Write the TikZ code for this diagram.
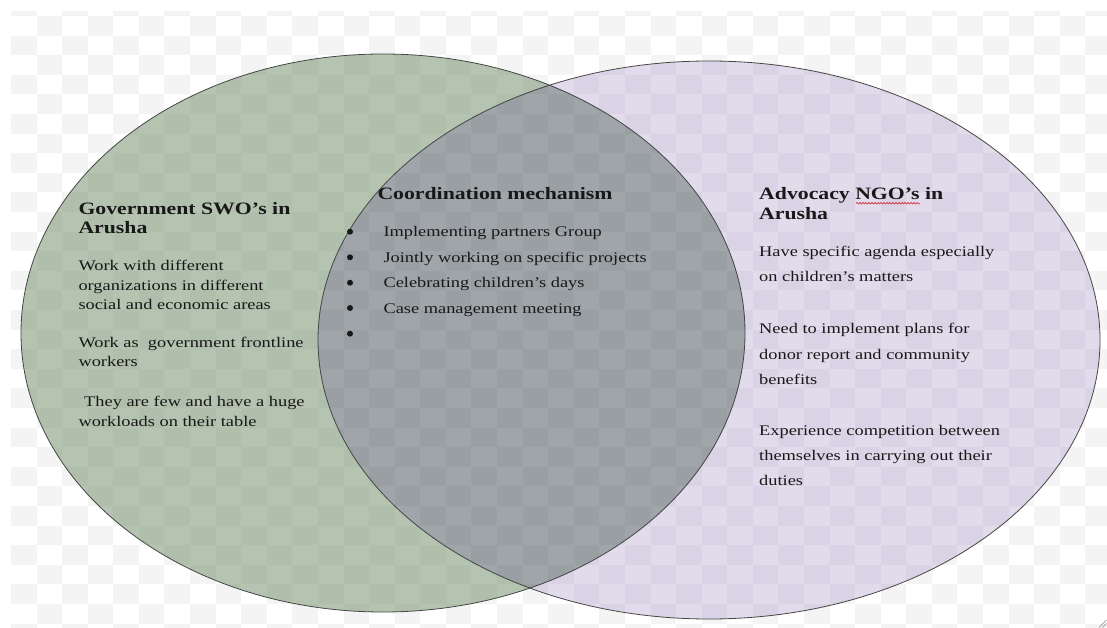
\documentclass[tikz,border=0pt]{standalone}
\usepackage{fontspec}
\setmainfont{Liberation Serif}[FakeStretch=1.25]
\usetikzlibrary{decorations.pathmorphing}

\definecolor{checkgrey}{RGB}{244,244,244}
\definecolor{govfill}{RGB}{120,148,113}
\definecolor{ngofill}{RGB}{158,138,195}
\definecolor{sharedfill}{RGB}{46,57,67}
\definecolor{rimcol}{RGB}{70,70,70}
\definecolor{inkcol}{RGB}{24,24,24}

\begin{document}
\begin{tikzpicture}[x=1pt,y=-1pt,
  txt/.style={anchor=base west, inner sep=0pt, text=inkcol,
              font=\fontsize{14.7}{17}\selectfont},
  head/.style={txt, font=\bfseries\fontsize{17.4}{20}\selectfont},
  dot/.style={circle, fill=inkcol, inner sep=0pt, minimum size=6pt}]

\useasboundingbox (0,0) rectangle (1107,628);
\fill[white] (0,0) rectangle (1107,628);

% chequered backdrop
\begin{scope}
  \clip (11,12) rectangle (1107,628);
  \foreach \c in {0,...,43}{
    \foreach \r in {0,...,33}{
      \pgfmathtruncatemacro\cellparity{mod(\c+\r,2)}
      \ifnum\cellparity=0
        \fill[checkgrey] ({11+\c*25.58},{16+(\r-1)*19.6}) rectangle +(25.58,19.6);
      \fi
    }
  }
\end{scope}

% the two sets
\def\govset{(383,333) ellipse [x radius=362, y radius=279]}
\def\ngoset{(709,340) ellipse [x radius=391, y radius=279]}

\begin{scope}
  \clip \govset;
  \fill[govfill, opacity=0.55, even odd rule] \govset \ngoset;
\end{scope}
\begin{scope}
  \clip \ngoset;
  \fill[ngofill, opacity=0.3, even odd rule] \govset \ngoset;
\end{scope}
\begin{scope}
  \clip \govset;
  \fill[sharedfill, opacity=0.45] \ngoset;
\end{scope}
\draw[rimcol, line width=0.8pt] \govset;
\draw[rimcol, line width=0.8pt] \ngoset;

% Government SWOs
\node[head] (govA) at (78.3,214.3) {Government SWO’s in};
\node[head] (govB) at (78.3,233.3) {Arusha};
\foreach \y/\t [count=\i] in {270.7/Work with different,
    290/organizations in different,
    309.3/social and economic areas,
    347.7/Work as\ \ government frontline,
    366.7/workers,
    426/workloads on their table}
  \node[txt] (gov\i) at (78.3,\y) {\t};
\node[txt] (gov7) at (84,406.7) {They are few and have a huge};

% Coordination mechanism
\node[head] (coord) at (377.3,199.3) {Coordination mechanism};
\foreach \y/\t [count=\i] in {236.7/Implementing partners Group,
    262.3/Jointly working on specific projects,
    287.3/Celebrating children’s days,
    313.3/Case management meeting}
  \node[txt] (item\i) at (383.3,\y) {\t};
\foreach \y [count=\i] in {231.7,257.3,282.7,308,333.7}
  \node[dot] (bul\i) at (350,\y) {};

% Advocacy NGOs
\node[head] (ngoA) at (759,199.3) {Advocacy NGO’s in};
\node[head] (ngoB) at (759,219) {Arusha};
\draw[red!85!black, line width=0.5pt, decorate,
      decoration={snake, amplitude=0.8pt, segment length=3pt}]
  (856,203.3) -- (920,203.3);
\foreach \y/\t [count=\i] in {256/Have specific agenda especially,
    281/on children’s matters,
    333.3/Need to implement plans for,
    359/donor report and community,
    384.3/benefits,
    435/Experience competition between,
    460/themselves in carrying out their,
    485.7/duties}
  \node[txt] (ngo\i) at (759,\y) {\t};

% window resize grip
\draw[gray, line width=0.6pt] (1099,627.5) -- (1106.5,620);
\draw[gray, line width=0.6pt] (1102.5,627.5) -- (1106.5,623.5);
\end{tikzpicture}
\end{document}
